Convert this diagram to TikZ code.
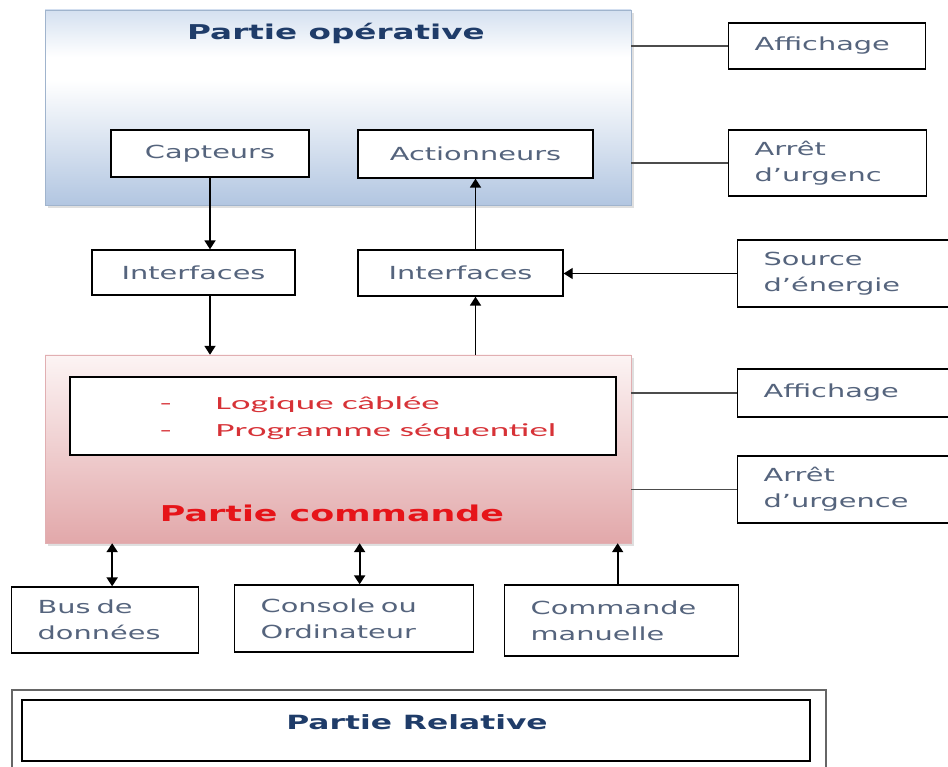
\documentclass[tikz,border=0pt]{standalone}
\usepackage{fontspec}
\setmainfont[FakeStretch=1.6]{DejaVu Sans}
\newfontfamily\listfont[FakeStretch=2.0]{Carlito}
\usepackage{tikz}
\usetikzlibrary{arrows.meta,calc,shadows}
\usepackage{xcolor}
\definecolor{navyblue}{RGB}{31,60,105}
\definecolor{labelgrey}{RGB}{85,100,125}
\definecolor{cmdred}{RGB}{230,20,25}
\definecolor{listred}{RGB}{215,50,55}
\definecolor{optop}{RGB}{212,224,240}
\definecolor{opbottom}{RGB}{178,198,225}
\definecolor{opedge}{RGB}{160,180,205}
\definecolor{cmdtop}{RGB}{252,244,244}
\definecolor{cmdbottom}{RGB}{226,168,170}
\definecolor{cmdedge}{RGB}{225,175,178}
\pgfdeclareverticalshading{opshading}{100bp}{color(0bp)=(opbottom); color(25bp)=(opbottom);
  color(57bp)=(white); color(63bp)=(white); color(75bp)=(optop); color(100bp)=(optop)}
\newcommand{\labelfont}{\fontsize{18}{26}\selectfont}

\begin{document}
\begin{tikzpicture}[x=1pt, y=-1pt,
    box/.style={draw, line width=1.3pt, fill=white, text=labelgrey, font=\labelfont, inner sep=0pt},
    lbox/.style 2 args={box, anchor=west, text width=#1, minimum height=#2, align=left, inner xsep=26pt},
    flow/.style={line width=1.8pt, -{Triangle[length=9pt,width=11pt]}},
    dflow/.style={line width=2pt, {Triangle[length=9pt,width=11pt]}-{Triangle[length=9pt,width=11pt]}},
    link/.style={line width=1.2pt, black!70}]
        \useasboundingbox (0,0) rectangle (948,767);
        % Partie operative
        \node[draw=opedge, shade, shading=opshading, minimum width=586pt, minimum height=195pt,
          drop shadow={opacity=0.25}] (op) at (338,107.5) {};
        \node[font=\fontsize{20.4}{24}\selectfont\bfseries, text=navyblue] (optitle) at (336,33) {Partie opérative};
        \node[box, minimum width=198pt, minimum height=47pt] (cap) at (210,153.5) {Capteurs};
        \node[box, minimum width=235pt, minimum height=48pt] (act) at (475.5,154) {Actionneurs};
        % Interfaces
        \node[box, minimum width=203pt, minimum height=45pt] (ifl) at (193.5,272.5) {Interfaces};
        \node[box, minimum width=205pt, minimum height=46pt] (ifr) at (460.5,273) {Interfaces};
        % Partie commande
        \node[draw=cmdedge, top color=cmdtop, bottom color=cmdbottom, minimum width=586pt,
          minimum height=188pt, drop shadow={opacity=0.25}] (cmd) at (338,449) {};
        \node[draw, line width=1.3pt, fill=white, minimum width=546pt, minimum height=78pt] (prog) at (343,416) {};
        \node[anchor=west, align=left, inner sep=0pt, text=listred, font=\listfont\fontsize{18.5}{27}\selectfont]
          (progtext) at (160,418) {-\hspace{44pt}Logique câblée\\-\hspace{44pt}Programme séquentiel};
        \node[font=\fontsize{21.8}{26}\selectfont\bfseries, text=cmdred] (cmdtitle) at (332,513) {Partie commande};
        % Side boxes
        \node[lbox={145pt}{46pt}] (aff1) at (728,46) {Affichage};
        \node[lbox={146pt}{66pt}] (arr1) at (728,163) {Arrêt\\d’urgenc};
        \node[lbox={171pt}{67pt}] (src) at (737,273.5) {Source\\d’énergie};
        \node[lbox={171pt}{48pt}] (aff2) at (737,393) {Affichage};
        \node[lbox={171pt}{67pt}] (arr2) at (737,489.5) {Arrêt\\d’urgence};
        \foreach \b/\p in {aff1/op, arr1/op, aff2/cmd, arr2/cmd}{
          \draw[link] (\p.east |- \b.west) -- (\b.west);
        }
        \draw[flow, line width=1.2pt] (src.west) -- (src.west -| ifr.east);
        % Vertical flows
        \draw[flow] (cap) -- (cap |- ifl.north);
        \draw[flow] (ifl.south -| cap) -- (cap |- cmd.north);
        \draw[flow] (ifr.north -| act) -- (act);
        \draw[flow] (act |- cmd.north) -- (act |- ifr.south);
        % Bottom boxes
        \node[lbox={135pt}{66pt}] (bus) at (11,620) {Bus de\\données};
        \node[lbox={187pt}{67pt}] (con) at (234,618.5) {Console ou\\Ordinateur};
        \node[lbox={182pt}{71pt}] (man) at (504,620.5) {Commande\\manuelle};
        \draw[dflow] ([xshift=7pt]bus.north) -- ([xshift=7pt]bus.north |- cmd.south);
        \draw[dflow] ([xshift=5.5pt]con.north) -- ([xshift=5.5pt]con.north |- cmd.south);
        \draw[flow] ([xshift=-4pt]man.north) -- ([xshift=-4pt]man.north |- cmd.south);
        % Partie relative
        \node[draw=black!60, line width=1.3pt, minimum width=814pt, minimum height=100pt] (relout) at (419,740) {};
        \node[draw, line width=1.4pt, minimum width=788pt, minimum height=61pt] (relin) at (416,730.5) {};
        \node[font=\fontsize{19.6}{24}\selectfont\bfseries, text=navyblue] (reltitle) at (417,722) {Partie Relative};
\end{tikzpicture}
\end{document}
